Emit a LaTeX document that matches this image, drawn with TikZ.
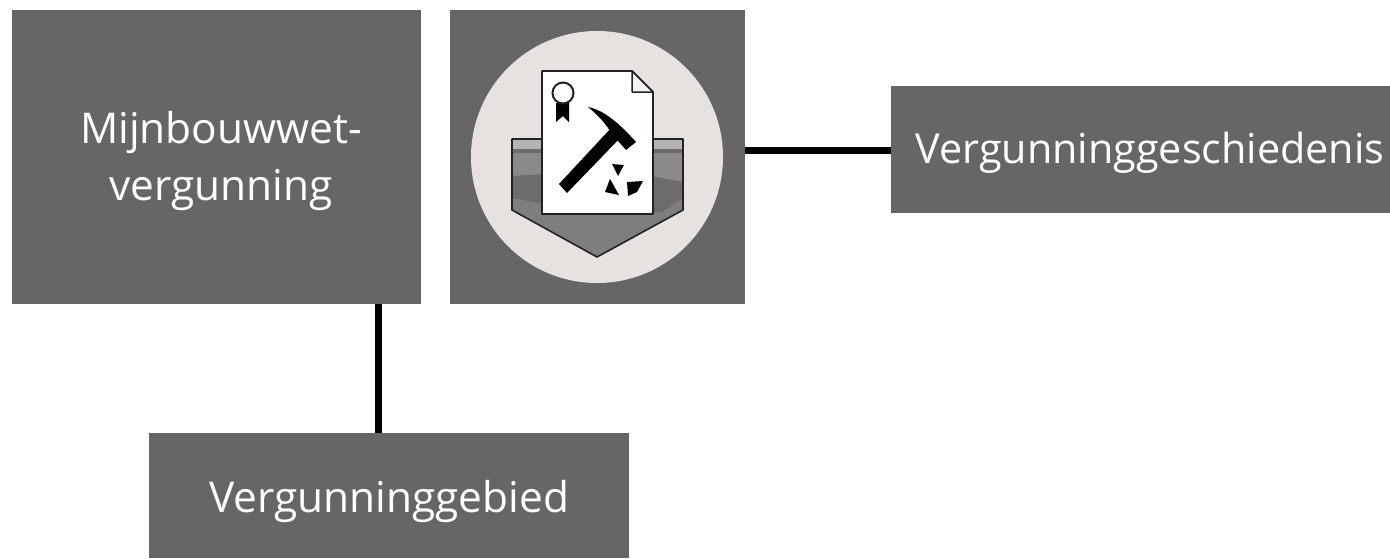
\documentclass[tikz,border=0pt]{standalone}
\usepackage{fontspec}
\setmainfont{Open Sans}
\definecolor{boxgrey}{HTML}{666666}
\definecolor{disc}{HTML}{E7E1DF}
\definecolor{bandlight}{HTML}{B4B4B2}
\definecolor{bandmid}{HTML}{8A8A8A}
\definecolor{banddark}{HTML}{6C6C6C}
\definecolor{bandlow}{HTML}{7E7E7E}
\definecolor{inkline}{HTML}{222222}
\begin{document}
\begin{tikzpicture}[x=1pt,y=-1pt,
  greybox/.style={fill=boxgrey,draw=none,inner sep=0pt,outer sep=0pt},
  label/.style={text=white,align=center,inner sep=0pt,font=\fontsize{41.3}{57}\selectfont},
  biglabel/.style={label,font=\fontsize{42.4}{57}\selectfont},
  link/.style={draw=black,line width=7pt},
  ink/.style={fill=black,draw=none}]
\useasboundingbox (0,0) rectangle (1390,558);
\node[greybox,minimum width=409pt,minimum height=294pt] (wet) at (216.5,157) {};
\node[greybox,minimum width=295pt,minimum height=294pt] (icon) at (597.5,157) {};
\node[greybox,minimum width=499pt,minimum height=127pt] (hist) at (1140.5,149.5) {};
\node[greybox,minimum width=480pt,minimum height=125pt] (gebied) at (389,495.5) {};
\node[biglabel] (wettxt) at (221,161) {Mijnbouwwet-\\vergunning};
\node[label] (histtxt) at (1150,153) {Vergunninggeschiedenis};
\node[biglabel] (gebtxt) at (389,501) {Vergunninggebied};
\coordinate (wetdown) at (378,304);
\coordinate (gebup) at (378,433);
\coordinate (iconright) at (745,150);
\coordinate (histleft) at (891,150);
\draw[link] (wetdown) -- (gebup);
\draw[link] (iconright) -- (histleft);
% icon
\fill[disc] (597,157) circle (126);
\fill[bandlow] (512,139) -- (683,139) -- (683,210) -- (597,257) -- (512,210) -- cycle;
\fill[bandlight] (512,139) rectangle (683,149);
\fill[banddark] (512,149) rectangle (683,153);
\fill[bandmid] (512,153) -- (683,153) -- (683,182) -- (640,174) -- (580,172) -- (512,176) -- cycle;
\fill[banddark] (512,176) -- (580,172) -- (640,174) -- (683,182) -- (683,198) -- (662,212) -- (600,214) -- (512,198) -- cycle;
\draw[inkline,line width=1.6pt,line join=round] (512,139) -- (683,139) -- (683,210) -- (597,257) -- (512,210) -- cycle;
\draw[inkline,line width=1.8pt,fill=white,line join=round] (542,71) -- (632,71) -- (653,92) -- (653,214) -- (542,214) -- cycle;
\draw[inkline,line width=1.5pt,fill=disc!40,line join=round] (632,71) -- (632,92) -- (653,92) -- cycle;
\fill[ink] (556,103) -- (569,103) -- (569,122) -- (563,116) -- (556,122) -- cycle;
\draw[inkline,line width=2pt,fill=white] (563,93) circle (10.5);
% hammer
\fill[ink] (559,184) -- (612,127) -- (622,136) -- (567,193) -- cycle;
\fill[ink] (588,107) .. controls (604,110) and (620,124) .. (636,142) -- (626,150) -- (612,134) .. controls (606,124) and (598,115) .. cycle;
% rocks
\fill[ink] (612,164) -- (624,165) -- (618,176) -- cycle;
\fill[ink] (610,179) -- (619,195) -- (605,192) -- cycle;
\fill[ink] (627,182) -- (643,181) -- (637,192) -- (628,196) -- cycle;
\end{tikzpicture}
\end{document}
